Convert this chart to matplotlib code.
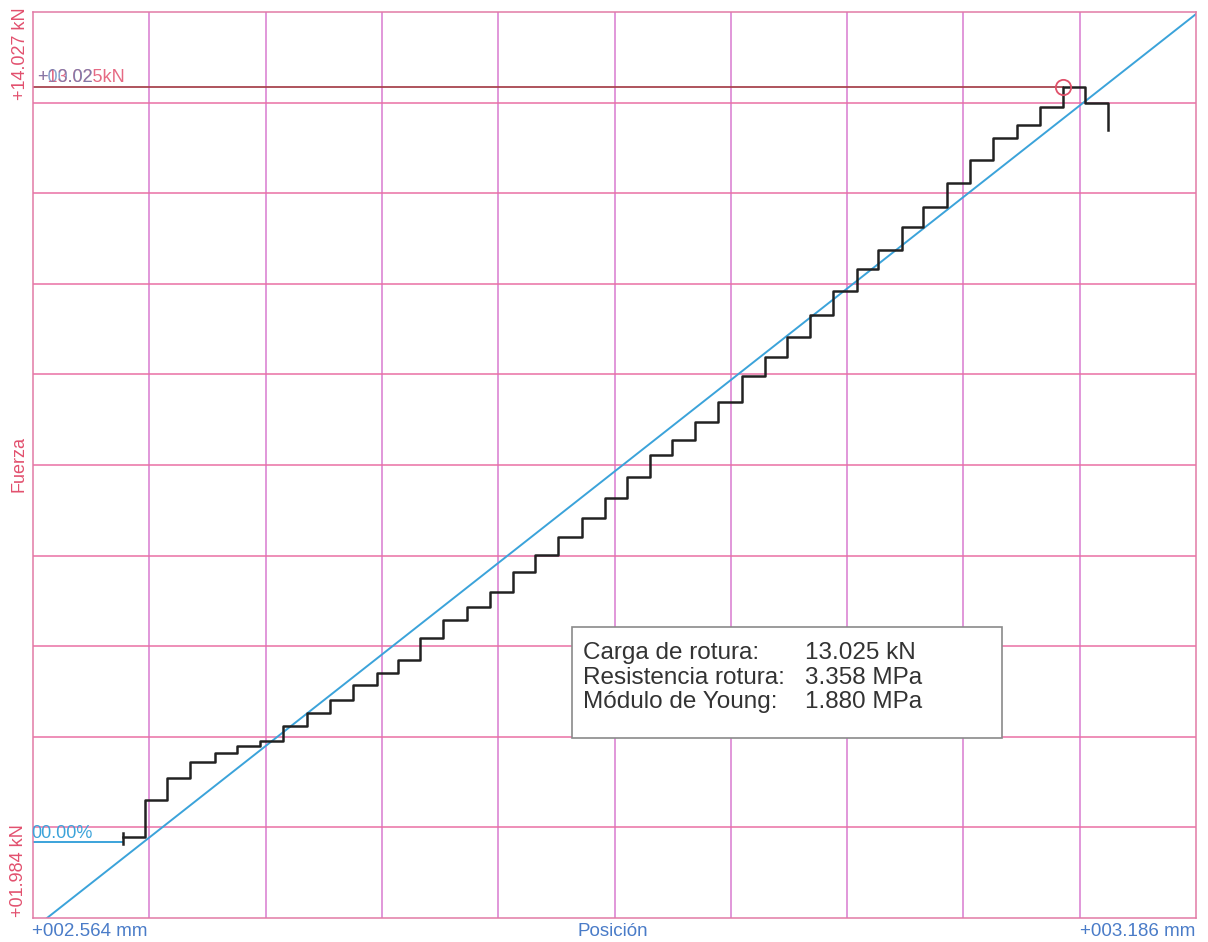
from matplotlib import pyplot as plt
from matplotlib.patches import Rectangle
import numpy as np

# axis range of the test (mm, kN)
x_min, x_max = 2.564, 3.186
y_min, y_max = 1.984, 14.027

# start of each tread of the staircase (mm) and its force level (kN)
step_x = [2.6121, 2.6239, 2.6357, 2.6480, 2.6613, 2.6731, 2.6854, 2.6977, 2.7105, 2.7228,
          2.7351, 2.7480, 2.7592, 2.7710, 2.7833, 2.7961, 2.8084, 2.8207, 2.8325, 2.8448,
          2.8576, 2.8699, 2.8817, 2.8940, 2.9058, 2.9181, 2.9304, 2.9432, 2.9555, 2.9673,
          2.9796, 2.9919, 3.0047, 3.0159, 3.0288, 3.0400, 3.0528, 3.0651, 3.0774, 3.0903,
          3.1026, 3.1149, 3.1266]
step_y = [3.061, 3.553, 3.845, 4.058, 4.177, 4.270, 4.337, 4.536, 4.709, 4.882,
          5.081, 5.241, 5.413, 5.706, 5.945, 6.118, 6.317, 6.583, 6.809, 7.048,
          7.301, 7.567, 7.846, 8.138, 8.338, 8.577, 8.843, 9.189, 9.441, 9.707,
          9.999, 10.318, 10.611, 10.863, 11.169, 11.435, 11.754, 12.060, 12.352, 12.525,
          12.764, 13.025, 12.817]
end_x = 3.1389
end_y = 12.458

start_level = 2.994          # blue 00.00% line
start_tick = [2.968, 3.114]  # little tick at the start of the curve

peak_x, peak_y = 3.1149, 13.025

# young modulus fit line, two points
fit_x = [2.5715, 3.186]
fit_y = [1.984, 14.000]

info_labels = ['Carga de rotura:', 'Resistencia rotura:', 'Módulo de Young:']
info_values = ['13.025 kN', '3.358 MPa', '1.880 MPa']

W, H = 1208, 942
red = '#e2506e'
blue = '#4a7cc8'

plt.rcParams['font.family'] = ['Liberation Sans', 'DejaVu Sans']

fig = plt.figure(figsize=(W / 100, H / 100), dpi=100)
ax = fig.add_axes([33 / W, 1 - 918 / H, (1196 - 33) / W, (918 - 12) / H])
ax.set_xlim(x_min, x_max)
ax.set_ylim(y_min, y_max)

# grid, 10 x 10
for gx in np.linspace(x_min, x_max, 11)[1:-1]:
    ax.axvline(gx, color='#d97bd0', lw=1.1, zorder=0)
for gy in np.linspace(y_min, y_max, 11)[1:-1]:
    ax.axhline(gy, color='#e970a4', lw=1.1, zorder=0)
for s in ax.spines.values():
    s.set_color('#e27aa6')
    s.set_linewidth(1.1)
ax.set_xticks([])
ax.set_yticks([])

# fit line
ax.plot(fit_x, fit_y, color='#3ba3da', lw=1.4, zorder=2)

# zero strain line + start tick
ax.plot([x_min, step_x[0]], [start_level, start_level], color='#3ba3da', lw=1.4, zorder=2)
ax.plot([step_x[0], step_x[0]], start_tick, color='#222222', lw=1.8, zorder=3)

# load curve
curve_x = step_x + [end_x, end_x]
curve_y = step_y + [step_y[-1], end_y]
ax.step(curve_x, curve_y, where='post', color='#222222', lw=1.8, zorder=3)

# break load line + marker
ax.plot([x_min, peak_x], [peak_y, peak_y], color='#a8454f', lw=1.3, zorder=2)
ax.plot(peak_x, peak_y, 'o', ms=11, mfc='none', mec='#e0506a', mew=1.3, zorder=4)

def ftext(px, py, s, **kw):
    fig.text(px / W, 1 - py / H, s, **kw)

# axis texts
ftext(21, 100, '+14.027 kN', color=red, fontsize=13, rotation=90, ha='center', va='bottom')
ftext(19, 917, '+01.984 kN', color=red, fontsize=13, rotation=90, ha='center', va='bottom')
ftext(19, 464, 'Fuerza', color=red, fontsize=13, rotation=90, ha='center', va='center')
ftext(32, 931, '+002.564 mm', color=blue, fontsize=13.5, ha='left', va='center')
ftext(613, 931, 'Posición', color=blue, fontsize=13.5, ha='center', va='center')
ftext(1195, 931, '+003.186 mm', color=blue, fontsize=13.5, ha='right', va='center')

# overlapping labels on the break line, as in the original print
ftext(37, 77, '+13.025kN', color=red, fontsize=13, ha='left', va='center', alpha=0.85)
ftext(37, 77, '+00.02', color='#5a7fb8', fontsize=13, ha='left', va='center', alpha=0.7)
ftext(31, 833, '00.00%', color='#3ba3da', fontsize=13, ha='left', va='center')

# info box
fig.patches.append(Rectangle((572 / W, 1 - 738 / H), (1002 - 572) / W, (738 - 627) / H,
                             transform=fig.transFigure, fill=True, fc='white',
                             ec='#8a8a8a', lw=1.2, zorder=5))
for i, (lab, val) in enumerate(zip(info_labels, info_values)):
    yb = 659 + i * 24.5
    ftext(583, yb, lab, color='#333333', fontsize=17.5, ha='left', va='baseline', zorder=6)
    ftext(805, yb, val, color='#333333', fontsize=17.5, ha='left', va='baseline', zorder=6)

fig.savefig('out.png', dpi=100, facecolor='white')
